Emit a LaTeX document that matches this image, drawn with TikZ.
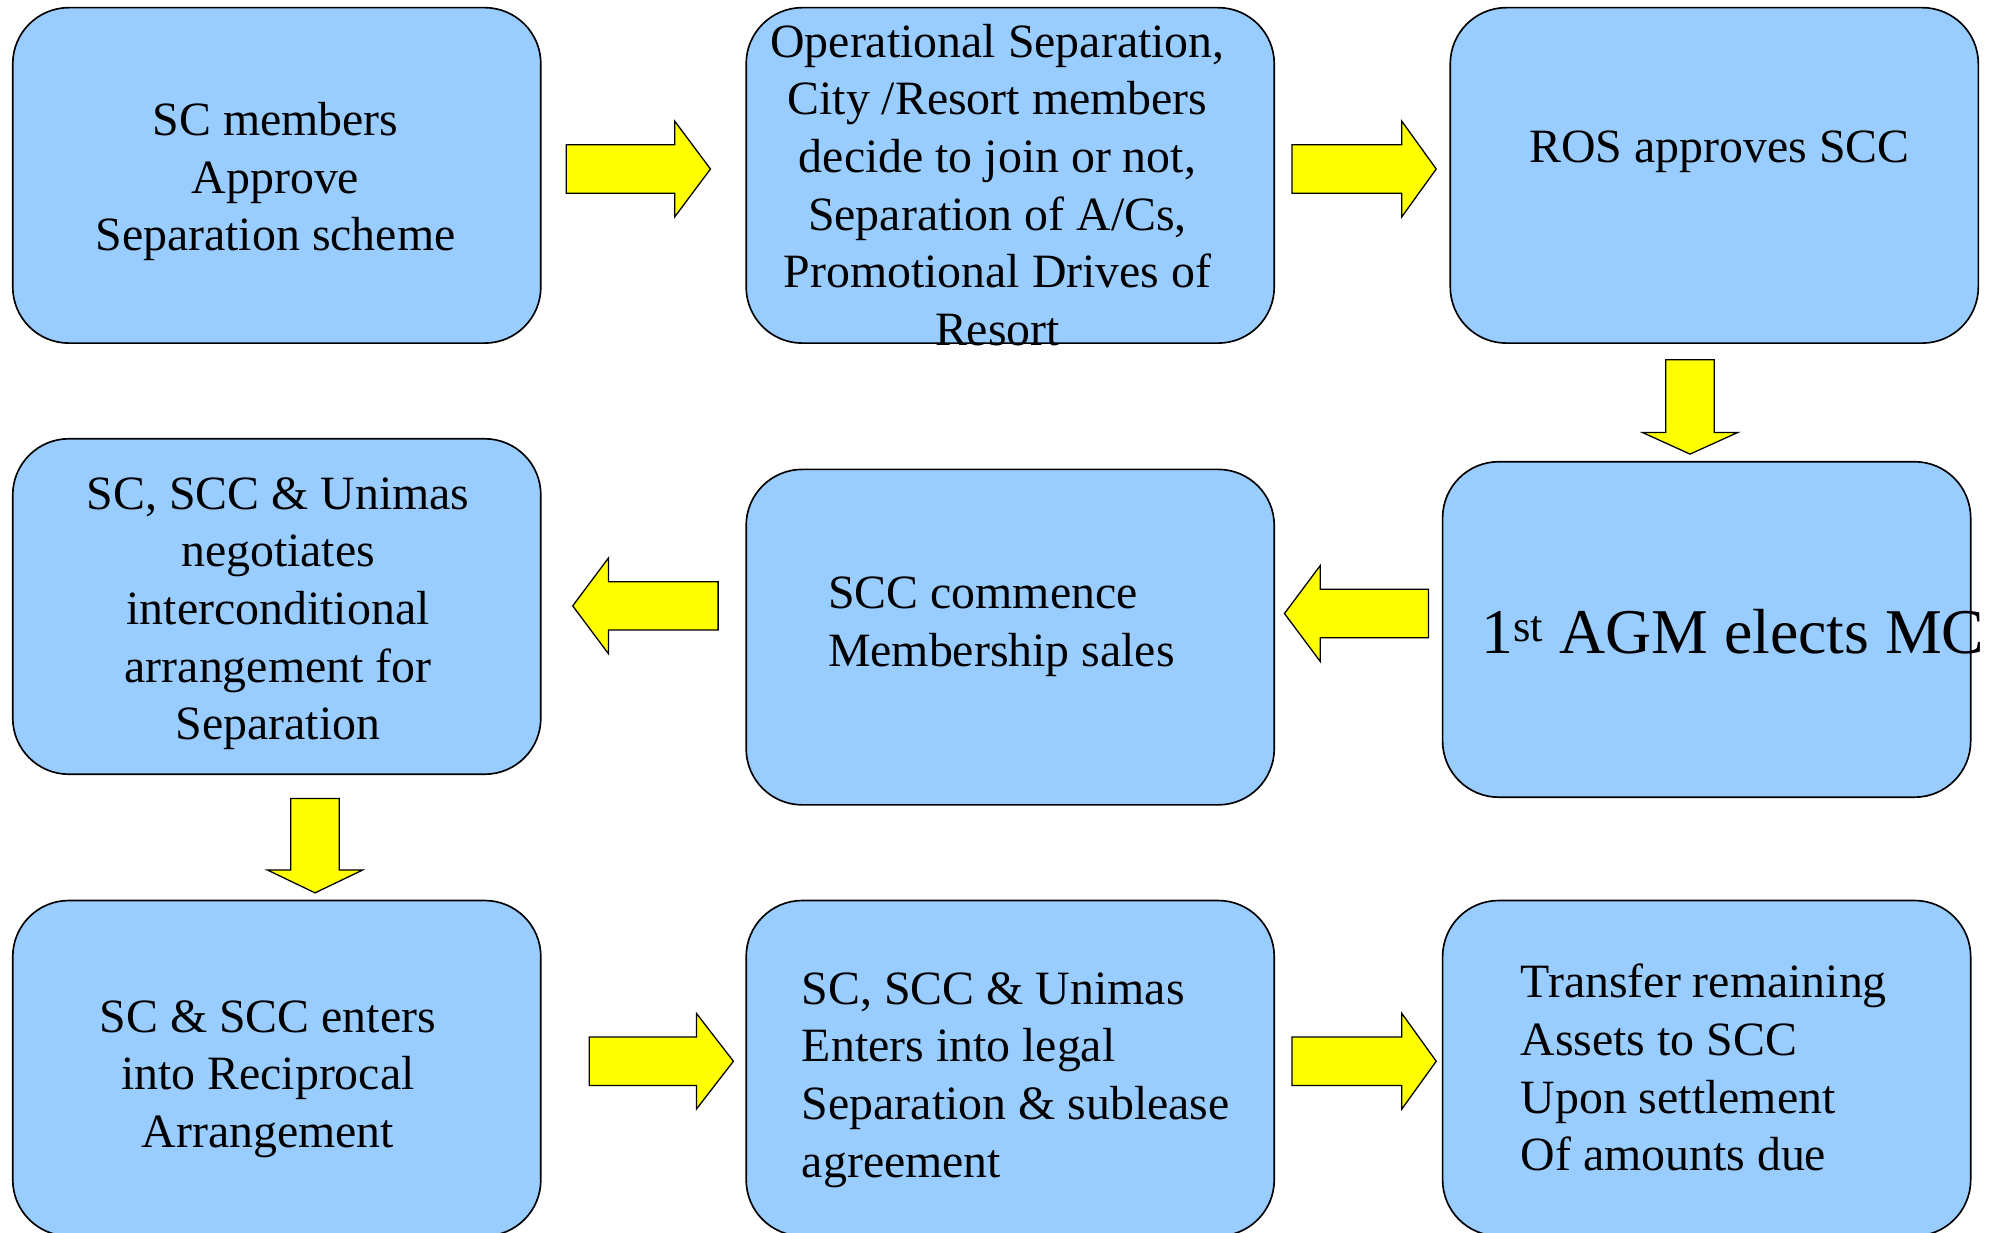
\documentclass[tikz,border=0pt]{standalone}
\usepackage{fontspec}
\setmainfont{Liberation Serif}
\usetikzlibrary{calc}
\definecolor{panelblue}{HTML}{99CCFF}
\definecolor{flowyellow}{HTML}{FFFF00}

\tikzset{
  panel/.style={draw=black, line width=1.3pt, fill=panelblue, rounded corners=44pt,
    minimum width=414pt, minimum height=263pt, inner sep=0pt, outer sep=0pt},
  txt/.style={inner sep=0pt, font=\fontsize{37.5}{45.2}\selectfont},
  ctxt/.style={txt, align=center, anchor=north},
  ltxt/.style={txt, align=left, anchor=north west},
  % block arrow drawn along +x from its tail centre: #1 = total length, #2 = head length
  pics/blockarrow/.style 2 args={code={
    \draw[draw=black, line width=1pt, fill=flowyellow, line join=miter]
      (0,-19) -- ({#1-#2},-19) -- ({#1-#2},-37.5) -- (#1,0)
      -- ({#1-#2},37.5) -- ({#1-#2},19) -- (0,19) -- cycle;
  }},
}

\begin{document}
\begin{tikzpicture}[x=1pt, y=-1pt]
\useasboundingbox (0,0) rectangle (1568,966);
\clip (0,0) rectangle (1568,966);

% process boxes
\node[panel] (A) at (217,137.5) {};
\node[panel] (B) at (792,137.5) {};
\node[panel] (C) at (1344,137.5) {};
\node[panel] (D) at (217,475.5) {};
\node[panel] (E) at (792,499.5) {};
\node[panel] (F) at (1338,493.5) {};
\node[panel] (G) at (217,837.5) {};
\node[panel] (H) at (792,837.5) {};
\node[panel] (I) at (1338,837.5) {};

% flow arrows between the boxes
\pic at ($(A.east)+(20,-5)$) {blockarrow={113}{28}};
\pic at ($(B.east)+(14,-5)$) {blockarrow={113}{27}};
\pic[rotate=-90] at ($(C.south)+(-19,13)$) {blockarrow={74}{17}};
\pic[rotate=180] at ($(F.west)+(-11,-12.5)$) {blockarrow={113}{28}};
\pic[rotate=180] at ($(E.west)+(-22,-24.5)$) {blockarrow={114}{28}};
\pic[rotate=-90] at ($(D.south)+(30,19)$) {blockarrow={74}{18}};
\pic at ($(G.east)+(38,-5.5)$) {blockarrow={113}{29}};
\pic at ($(H.east)+(14,-5.5)$) {blockarrow={113}{27}};

% box texts
\node[ctxt] (tA) at (216,74.4) {\strut SC members\\\strut Approve\\\strut Separation scheme};
\node[ctxt] (tB) at (782,13) {\strut Operational Separation,\\\strut City /Resort members\\\strut decide to join or not,\\\strut Separation of A/Cs,\\\strut Promotional Drives of\\\strut Resort};
\node[ctxt] (tC) at (1348,95.4) {\strut ROS approves SCC};
\node[ctxt] (tD) at (218,367.4) {\strut SC, SCC \& Unimas\\\strut negotiates\\\strut interconditional\\\strut arrangement for\\\strut Separation};
\node[ltxt] (tE) at (649,445.4) {\strut SCC commence\\\strut Membership sales};
\node[inner sep=0pt, anchor=base west, font=\fontsize{50}{60}\selectfont] (tF) at (1161,512) {1\textsuperscript{st} AGM elects MC};
\node[ctxt] (tG) at (210,777.4) {\strut SC \& SCC enters\\\strut into Reciprocal\\\strut Arrangement};
\node[ltxt] (tH) at (628.5,755.4) {\strut SC, SCC \& Unimas\\\strut Enters into legal\\\strut Separation \& sublease\\\strut agreement};
\node[ltxt] (tI) at (1192,750.4) {\strut Transfer remaining\\\strut Assets to SCC\\\strut Upon settlement\\\strut Of amounts due};
\end{tikzpicture}
\end{document}
